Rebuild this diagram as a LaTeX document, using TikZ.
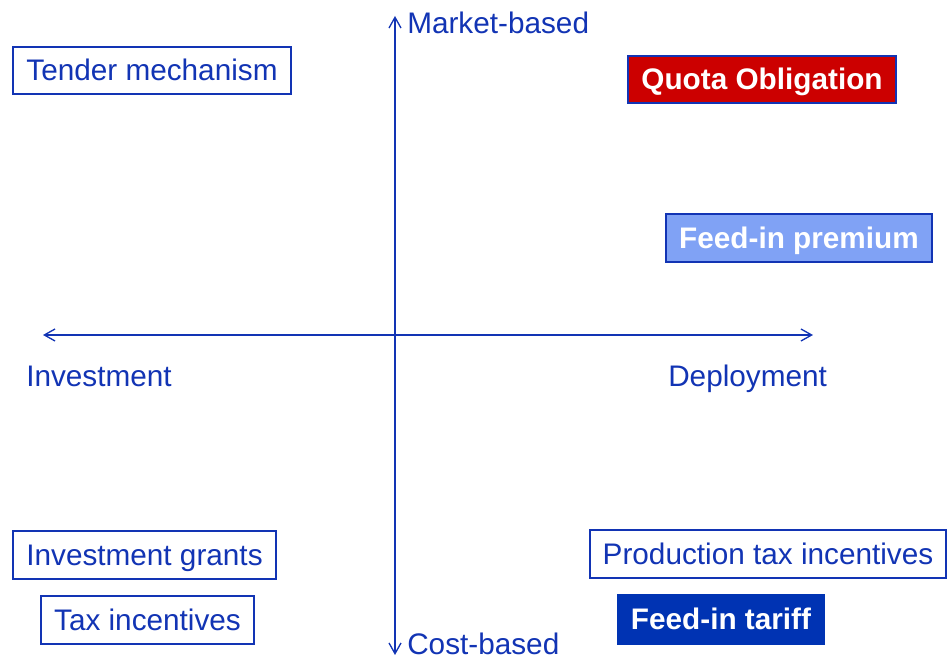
\documentclass[tikz,border=0pt]{standalone}
\usepackage{fontspec}
\setmainfont{Liberation Sans}
\usetikzlibrary{arrows.meta}

\definecolor{policyblue}{RGB}{18,52,180}
\definecolor{quotared}{RGB}{204,0,0}
\definecolor{premiumblue}{RGB}{128,162,245}
\definecolor{tariffblue}{RGB}{0,51,179}

\newlength\pxunit
\setlength\pxunit{0.75pt}

\tikzset{
  axis/.style={draw=policyblue, line width=1pt,
    {Straight Barb[length=8pt,width=9pt]}-{Straight Barb[length=8pt,width=9pt]}},
  axislabel/.style={text=policyblue, anchor=base west, inner sep=0pt,
    font=\fontsize{22.3}{26}\selectfont},
  boxtext/.style={inner sep=0pt, text height=20pt, text depth=4.5pt},
  plainbox/.style={boxtext, draw=policyblue, line width=0.9pt, fill=white,
    text=policyblue, font=\fontsize{22.3}{26}\selectfont},
  filledbox/.style={boxtext, draw=policyblue, line width=0.9pt, text=white,
    font=\fontsize{22.3}{26}\selectfont\bfseries},
}

\begin{document}
\begin{tikzpicture}[x=\pxunit, y=\pxunit]
    \useasboundingbox (0,0) rectangle (949,659);

    % axis ends
    \coordinate (top)    at (395,643);
    \coordinate (bottom) at (395,4);
    \coordinate (left)   at (43,324);
    \coordinate (right)  at (813,324);

    \draw[axis] (bottom) -- (top);
    \draw[axis] (left) -- (right);

    % axis labels
    \node[axislabel] (market)     at (407,625) {Market-based};
    \node[axislabel] (cost)       at (407,4)   {Cost-based};
    \node[axislabel] (investment) at (26,272)  {Investment};
    \node[axislabel] (deployment) at (668,272) {Deployment};

    % instruments
    \node[plainbox, minimum width=278\pxunit, minimum height=47\pxunit]
      (tender) at (152,588.5) {Tender mechanism};
    \node[filledbox, fill=quotared, minimum width=268\pxunit, minimum height=47\pxunit]
      (quota) at (762,579.5) {Quota Obligation};
    \node[filledbox, fill=premiumblue, minimum width=266\pxunit, minimum height=48\pxunit]
      (premium) at (799,421) {Feed-in premium};
    \node[plainbox, minimum width=263\pxunit, minimum height=48\pxunit]
      (grants) at (144.5,104) {Investment grants};
    \node[plainbox, minimum width=213\pxunit, minimum height=48\pxunit]
      (taxinc) at (147.5,39) {Tax incentives};
    \node[plainbox, minimum width=356\pxunit, minimum height=48\pxunit]
      (prodtax) at (768,105) {Production tax incentives};
    \node[filledbox, fill=tariffblue, draw=tariffblue, minimum width=206\pxunit, minimum height=49\pxunit]
      (tariff) at (721,39.5) {Feed-in tariff};
\end{tikzpicture}
\end{document}
